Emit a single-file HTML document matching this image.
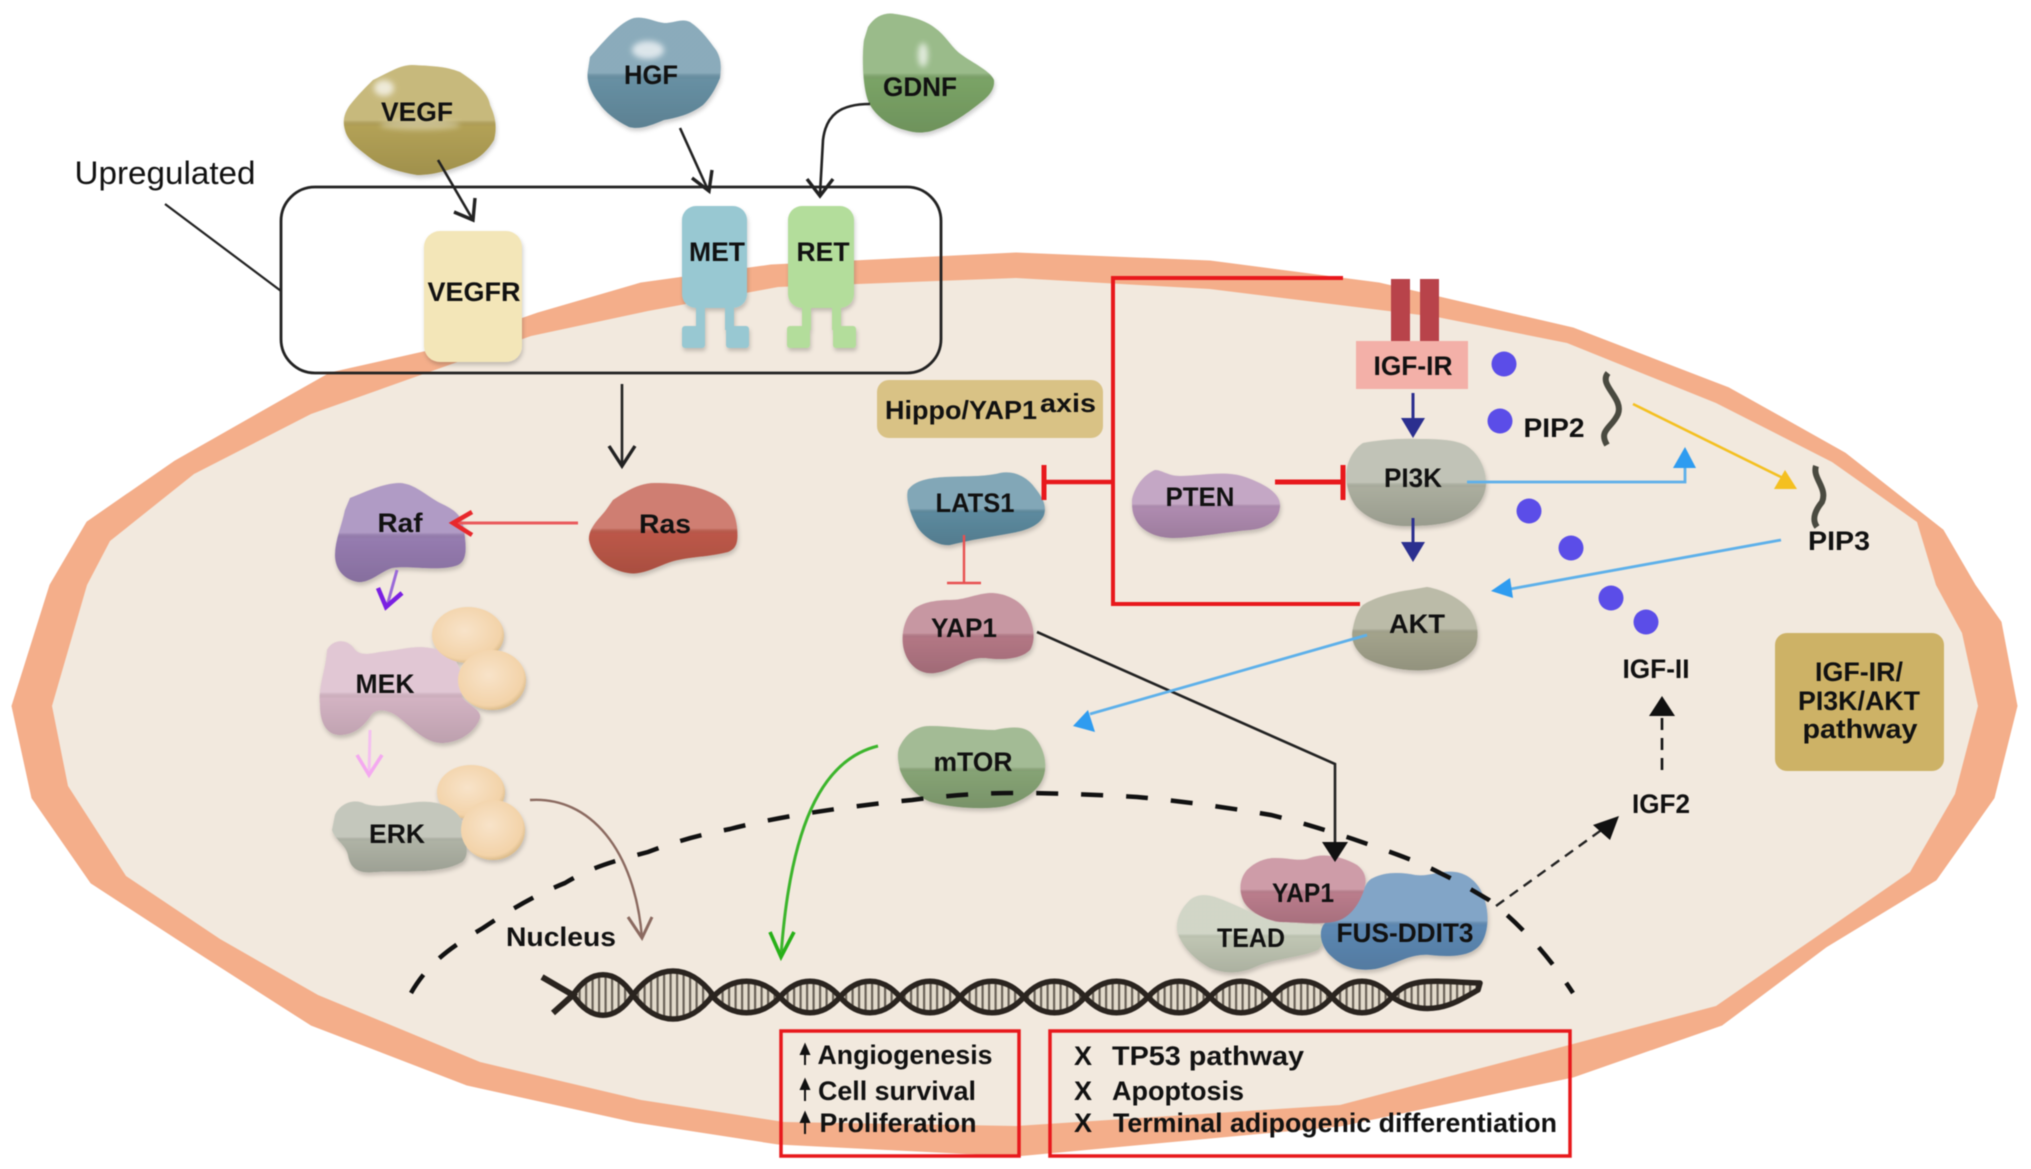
<!DOCTYPE html>
<html><head><meta charset="utf-8"><style>
html,body{margin:0;padding:0;background:#fff}
svg{display:block;filter:blur(.5px)}
text{font-family:"Liberation Sans",sans-serif;font-weight:bold;fill:#111;text-anchor:middle;dominant-baseline:central}
</style></head><body>
<svg width="2031" height="1169" viewBox="0 0 2031 1169" xmlns="http://www.w3.org/2000/svg">
<defs>
<linearGradient id="sh" x1="0" y1="0" x2="0" y2="1">
<stop offset="0" stop-color="#fff" stop-opacity=".22"/><stop offset=".5" stop-color="#fff" stop-opacity=".22"/><stop offset=".56" stop-color="#000" stop-opacity=".03"/><stop offset="1" stop-color="#000" stop-opacity=".13"/>
</linearGradient>
<filter id="soft" x="-50%" y="-50%" width="200%" height="200%"><feGaussianBlur stdDeviation="3"/></filter>
<filter id="sd" x="-15%" y="-15%" width="130%" height="130%"><feDropShadow dx="1" dy="3" stdDeviation="2" flood-color="#000" flood-opacity=".2"/></filter>
<radialGradient id="ball" cx=".45" cy=".42" r=".62"><stop offset="0" stop-color="#f8e3c9"/><stop offset=".82" stop-color="#f3d3a9"/><stop offset="1" stop-color="#d1b27e"/></radialGradient>
<pattern id="st" width="6.5" height="10" patternUnits="userSpaceOnUse"><rect width="6.5" height="10" fill="#e2dacb"/><rect width="2.2" height="10" fill="#6a6258"/></pattern>
<path id="vegf" d="M373 80C390 72 400 65 412 65C430 66 445 66 460 72C475 82 488 92 490 105C496 118 497 128 494 140C488 150 480 158 470 162C450 170 435 175 417 175C400 172 385 168 373 160C360 150 348 142 345 130C342 120 345 112 350 105C358 95 365 88 373 80Z"/>
<path id="hgf" d="M590 57C605 40 620 22 634 18C645 16 655 22 664 23C675 23 682 18 690 22C702 30 710 42 716 50C722 60 721 68 720 78C715 90 710 98 703 105C690 115 675 118 664 120C652 125 640 130 629 127C615 120 605 112 599 103C590 92 586 80 588 70Z"/>
<path id="gdnf" d="M868 27C875 16 885 12 895 14C910 16 925 20 935 28C945 35 950 45 958 52C970 62 990 70 994 80C995 90 988 97 980 103C965 115 950 125 937 129C925 134 915 133 905 130C890 126 878 118 870 105C862 90 862 55 864 40Z"/>
<path id="ras" d="M613 500C628 490 640 483 655 483C675 483 695 485 712 493C728 500 735 510 737 527C738 540 738 548 728 552C705 558 685 556 665 564C650 570 640 575 628 573C610 570 592 558 589 540C588 528 600 518 606 510Z"/>
<path id="raf" d="M350 498C370 490 385 483 400 483C415 484 425 495 440 503C455 510 462 515 464 530C466 545 468 560 458 565C440 572 410 565 392 568C380 572 370 583 358 582C345 580 335 570 335 555C335 540 342 525 345 510Z"/>
<path id="mek" d="M327 650C332 640 345 638 353 647C358 655 365 655 380 652C400 650 415 645 430 648C445 650 455 655 460 670L462 697C468 705 482 710 480 718C476 730 462 742 443 743C425 743 415 730 397 716C388 710 378 708 372 714C365 725 355 735 340 735C328 735 320 725 320 705C318 685 326 670 327 650Z"/>
<path id="erk" d="M335 815C340 803 355 798 365 804C385 810 410 800 430 802C448 804 462 812 464 830C466 845 470 855 462 862C440 875 400 870 375 872C358 874 350 868 348 855C346 845 335 840 332 830Z"/>
<path id="lats" d="M908 490C915 480 930 478 945 477C965 476 985 477 1000 473C1015 470 1028 478 1035 488C1042 497 1047 505 1044 515C1040 525 1028 530 1012 533C990 537 970 540 950 545C938 546 925 538 918 528C912 518 905 500 908 490Z"/>
<path id="yap" d="M913 610C920 603 935 600 950 600C965 600 975 594 990 593C1005 593 1020 600 1027 612C1034 625 1036 640 1030 650C1020 660 1000 660 985 658C965 657 955 670 935 673C920 675 908 665 904 650C900 635 905 618 913 610Z"/>
<path id="mtor" d="M899 748C905 735 915 726 930 726C950 726 975 730 995 730C1010 727 1025 725 1033 735C1042 745 1048 760 1044 775C1040 790 1025 800 1005 806C985 810 955 808 935 803C920 800 905 785 900 770C898 760 897 755 899 748Z"/>
<path id="pten" d="M1132 500C1134 488 1143 475 1155 470C1162 470 1168 476 1180 476C1200 476 1225 470 1245 477C1262 483 1280 492 1280 505C1280 518 1270 528 1250 530C1225 532 1195 538 1173 538C1155 538 1140 530 1135 518C1132 512 1132 506 1132 500Z"/>
<path id="pi3k" d="M1363 443C1380 440 1400 438 1420 439C1440 439 1455 440 1465 445C1478 452 1486 468 1486 483C1486 498 1475 512 1460 518C1445 525 1425 526 1405 526C1385 526 1365 518 1355 505C1347 493 1345 478 1347 468C1349 458 1355 448 1363 443Z"/>
<path id="akt" d="M1363 605C1375 597 1395 592 1410 590L1427 587C1445 590 1462 600 1470 610C1478 622 1479 635 1476 645C1470 658 1450 668 1427 670C1405 672 1380 666 1365 658C1355 650 1350 640 1353 628C1355 618 1358 610 1363 605Z"/>
<path id="yap2" d="M1247 870C1255 862 1265 858 1275 858C1290 858 1300 862 1310 858C1325 852 1345 858 1357 865C1366 872 1367 880 1364 890C1360 902 1352 915 1340 920C1325 926 1300 922 1280 922C1265 920 1250 912 1244 902C1238 890 1240 878 1247 870Z"/>
<path id="tead" d="M1188 902C1195 894 1205 894 1215 897C1235 904 1255 915 1275 922L1320 925C1325 935 1324 945 1318 950C1300 958 1275 958 1255 967C1240 974 1225 974 1210 968C1195 960 1180 945 1177 930C1176 918 1182 908 1188 902Z"/>
<path id="fus" d="M1373 878C1385 872 1400 872 1415 875C1430 877 1440 870 1455 872C1470 874 1480 885 1484 898C1490 915 1488 935 1480 945C1470 957 1450 957 1430 955C1410 953 1395 965 1375 969C1355 972 1340 965 1330 955C1320 945 1318 930 1325 923C1340 915 1355 910 1362 895C1365 885 1368 880 1373 878Z"/>
</defs>
<rect width="2031" height="1169" fill="#fff"/>
<!-- cell -->
<polygon fill="#f4ae8a" stroke="#f4ae8a" stroke-linejoin="round" points="50,585 87,522 175,461 330,373 428,351 538,313 641,283 771,265 1016,253 1210,261 1379,283 1573,328 1729,388 1845,453 1943,530 1975,585 2001,622 2017,706 1994,798 1936,880 1826,947 1722,1025 1573,1077 1340,1126 1016,1156 778,1144 635,1122 467,1085 311,1025 194,950 91,883 32,798 12,706"/>
<polygon fill="#f2e9de" points="52,706 68,786 126,876 220,939 318,995 480,1062 641,1100 784,1122 1016,1126 1340,1105 1573,1044 1716,1006 1819,935 1910,872 1955,794 1978,706 1962,633 1936,585 1917,522 1832,462 1716,403 1567,343 1437,317 1210,289 1016,278 778,287 648,311 531,336 415,377 311,414 194,474 110,541 87,585"/>
<!-- upregulated box -->
<rect x="281" y="187" width="660" height="186" rx="34" fill="none" stroke="#222" stroke-width="2.8"/>
<line x1="165" y1="204" x2="281" y2="291" stroke="#222" stroke-width="2.2"/>
<text x="165" y="173" font-size="32" style="font-weight:normal" fill="#222" textLength="181" lengthAdjust="spacingAndGlyphs">Upregulated</text>
<!-- ligands -->
<g filter="url(#sd)">
<use href="#vegf" fill="#b8a658"/><use href="#vegf" fill="url(#sh)"/>
<use href="#hgf" fill="#6a94a8"/><use href="#hgf" fill="url(#sh)"/>
<use href="#gdnf" fill="#7ea869"/><use href="#gdnf" fill="url(#sh)"/>
</g>
<g fill="#fff" filter="url(#soft)" opacity=".7">
<ellipse cx="384" cy="88" rx="10" ry="8"/><ellipse cx="420" cy="125" rx="40" ry="5" opacity=".5"/>
<ellipse cx="648" cy="50" rx="16" ry="9"/><ellipse cx="923" cy="55" rx="5" ry="12"/>
</g>
<!-- receptors -->
<rect x="424" y="231" width="98" height="131" rx="16" fill="#f3e6b8" filter="url(#sd)"/>
<g fill="#98c8d2" filter="url(#sd)">
<rect x="682" y="206" width="65" height="102" rx="14"/><rect x="696" y="300" width="9" height="30"/><rect x="725" y="300" width="9" height="30"/>
<rect x="682" y="326" width="23" height="22" rx="3"/><rect x="726" y="326" width="23" height="22" rx="3"/>
</g>
<g fill="#b3dd9b" filter="url(#sd)">
<rect x="788" y="206" width="66" height="102" rx="14"/><rect x="802" y="300" width="9" height="30"/><rect x="832" y="300" width="9" height="30"/>
<rect x="787" y="326" width="23" height="22" rx="3"/><rect x="833" y="326" width="23" height="22" rx="3"/>
</g>
<!-- IGF-IR -->
<rect x="1391" y="279" width="19" height="63" fill="#b8434a"/>
<rect x="1420" y="279" width="19" height="63" fill="#b8434a"/>
<rect x="1356" y="341" width="112" height="48" fill="#f3b0a8"/>
<rect x="877" y="380" width="226" height="58" rx="12" fill="#d9c285"/>
<rect x="1775" y="633" width="169" height="138" rx="12" fill="#cdb266"/>
<!-- dots -->
<g fill="#5b4de8">
<circle cx="1504" cy="364" r="12.5"/><circle cx="1500" cy="421" r="12.5"/><circle cx="1529" cy="511" r="12.5"/><circle cx="1571" cy="548" r="12.5"/><circle cx="1611" cy="598" r="12.5"/><circle cx="1646" cy="622" r="12.5"/>
</g>
<!-- squiggles -->
<path d="M1608 373C1598 385 1624 398 1618 414C1612 428 1598 430 1607 445" fill="none" stroke="#4a4a40" stroke-width="6"/>
<path d="M1816 466C1812 478 1828 488 1822 502C1814 512 1812 520 1817 527" fill="none" stroke="#4a4a40" stroke-width="6"/>
<!-- intracellular proteins -->
<g filter="url(#sd)">
<use href="#ras" fill="#c25a4a"/><use href="#ras" fill="url(#sh)"/>
<use href="#raf" fill="#9a7fb5"/><use href="#raf" fill="url(#sh)"/>
<use href="#mek" fill="#d9b8c8"/><use href="#mek" fill="url(#sh)"/>
<ellipse cx="468" cy="635" rx="36" ry="28" fill="url(#ball)"/><ellipse cx="492" cy="680" rx="34" ry="30" fill="url(#ball)"/>
<ellipse cx="471" cy="792" rx="34" ry="27" fill="url(#ball)"/>
<use href="#erk" fill="#b4b8aa"/><use href="#erk" fill="url(#sh)"/>
<ellipse cx="493" cy="830" rx="32" ry="30" fill="url(#ball)"/>
<use href="#lats" fill="#5f8ea3"/><use href="#lats" fill="url(#sh)"/>
<use href="#yap" fill="#b87a88"/><use href="#yap" fill="url(#sh)"/>
<use href="#mtor" fill="#8aa878"/><use href="#mtor" fill="url(#sh)"/>
<use href="#pten" fill="#b48fb5"/><use href="#pten" fill="url(#sh)"/>
<use href="#pi3k" fill="#b0b3a3"/><use href="#pi3k" fill="url(#sh)"/>
<use href="#akt" fill="#a8a890"/><use href="#akt" fill="url(#sh)"/>
<use href="#tead" fill="#c5cbb8"/><use href="#tead" fill="url(#sh)"/>
<use href="#fus" fill="#5f8cb8"/><use href="#fus" fill="url(#sh)"/>
<use href="#yap2" fill="#c08090"/><use href="#yap2" fill="url(#sh)"/>
</g>
<!-- DNA -->
<g fill="url(#st)" stroke="#2a241f" stroke-width="5.5" stroke-linejoin="round">
<path d="M573 995C591 968 615 968 633 995C615 1022 591 1022 573 995Z"/>
<path d="M633 995C657 963 689 963 713 995C689 1027 657 1027 633 995Z"/>
<path d="M713 997C733 976 760 976 780 997C760 1018 733 1018 713 997Z"/>
<path d="M780 997C798 976 822 976 840 997C822 1018 798 1018 780 997Z"/>
<path d="M840 997C858 976 882 976 900 997C882 1018 858 1018 840 997Z"/>
<path d="M900 997C918 976 942 976 960 997C942 1018 918 1018 900 997Z"/>
<path d="M960 997C979 976 1005 976 1024 997C1005 1018 979 1018 960 997Z"/>
<path d="M1024 997C1042 976 1067 976 1085 997C1067 1018 1042 1018 1024 997Z"/>
<path d="M1085 997C1104 976 1129 976 1148 997C1129 1018 1104 1018 1085 997Z"/>
<path d="M1148 997C1167 976 1191 976 1210 997C1191 1018 1167 1018 1148 997Z"/>
<path d="M1210 997C1229 976 1253 976 1272 997C1253 1018 1229 1018 1210 997Z"/>
<path d="M1272 997C1290 976 1314 976 1332 997C1314 1018 1290 1018 1272 997Z"/>
<path d="M1332 997C1350 976 1374 976 1392 997C1374 1018 1350 1018 1332 997Z"/>
<path d="M1392 997C1410 977 1430 981 1480 983L1478 990C1460 1000 1430 1022 1392 997Z"/>
</g>
<path d="M542 977L573 995L553 1013" fill="none" stroke="#2a241f" stroke-width="6"/>
<!-- nucleus -->
<path d="M411 993C430 960 455 945 483 928C510 910 535 895 565 883C590 868 610 862 648 852C680 840 700 835 730 829C780 816 850 806 912 800C950 795 985 793 1016 793C1060 793 1100 795 1137 797C1180 801 1225 807 1271 815C1300 822 1325 830 1353 839C1385 850 1420 862 1440 873C1465 885 1480 895 1489 900C1515 920 1545 950 1573 993" fill="none" stroke="#111" stroke-width="4.5" stroke-dasharray="22 23"/>
<!-- black arrows -->
<g fill="none" stroke="#222" stroke-width="2.6">
<path d="M438 160L473 220"/><path d="M454 212L473 220L475 198" stroke-width="3.4"/>
<path d="M680 128L708 190"/><path d="M692 178L709 191L712 170" stroke-width="3.4"/>
<path d="M870 104C840 104 826 115 823 140L820 194"/><path d="M807 179L820 196L833 179" stroke-width="3.4"/>
<path d="M622 384V464"/><path d="M609 446L622 466L635 446" stroke-width="3.4"/>
<path d="M1037 632L1335 764V845"/>
</g>
<polygon points="1322,842 1348,842 1335,862" fill="#111"/>
<!-- coloured arrows -->
<g fill="none">
<path d="M578 523H456" stroke="#ea5a5c" stroke-width="3"/><path d="M472 512L453 523L472 535" stroke="#e8282c" stroke-width="4.5"/>
<path d="M397 570L387 606" stroke="#9a6ad8" stroke-width="3"/><path d="M378 588L386 607L402 593" stroke="#7a20e2" stroke-width="4.5"/>
<path d="M370 730L369 775" stroke="#f4c0f0" stroke-width="3"/><path d="M357 755L369 775L382 755" stroke="#f4a9f0" stroke-width="3.5"/>
<path d="M530 800C590 796 635 850 642 938" stroke="#8b6a60" stroke-width="2.4"/><path d="M628 917L642 938L652 917" stroke="#8b6a60" stroke-width="3"/>
<path d="M878 746C820 760 790 830 781 956" stroke="#3cb52c" stroke-width="3"/><path d="M770 932L781 957L794 932" stroke="#28b018" stroke-width="3.6"/>
</g>
<!-- inhibitors -->
<g fill="none" stroke="#e8181c">
<path d="M1343 278H1113V604H1360" stroke-width="4"/>
<path d="M1113 482H1045" stroke-width="4.5"/>
<path d="M1044 465V500" stroke-width="5"/>
<path d="M1275 482H1343" stroke-width="5"/>
<path d="M1343 465V500" stroke-width="5"/>
</g>
<path d="M964 535V583M947 583H981" stroke="#e85050" stroke-width="2.4" fill="none"/>
<!-- navy arrows -->
<path d="M1413 393V420M1413 518V545" stroke="#2b2f8f" stroke-width="3"/>
<polygon points="1401,418 1425,418 1413,438" fill="#2b2f8f"/>
<polygon points="1401,542 1425,542 1413,562" fill="#2b2f8f"/>
<!-- light blue arrows -->
<g fill="none" stroke="#5db0ea" stroke-width="2.8">
<path d="M1467 482H1685V465"/>
<path d="M1781 540L1505 590"/>
<path d="M1367 635L1090 714"/>
</g>
<g fill="#2f9cf0">
<polygon points="1685,447 1673,468 1696,468"/>
<polygon points="1491,591 1510,578 1513,598"/>
<polygon points="1073,726 1088,710 1095,732"/>
</g>
<path d="M1633 404L1783 478" stroke="#f4c020" stroke-width="2.6" fill="none"/>
<polygon points="1785,470 1774,489 1797,489" fill="#f4c020"/>
<!-- dashed -->
<path d="M1662 770V715" stroke="#111" stroke-width="2.6" stroke-dasharray="12 8" fill="none"/>
<polygon points="1662,696 1649,716 1675,716" fill="#111"/>
<path d="M1496 906L1607 826" stroke="#222" stroke-width="2.4" stroke-dasharray="10 7" fill="none"/>
<polygon points="1619,816 1610,840 1593,825" fill="#111"/>
<!-- red boxes -->
<rect x="781" y="1031" width="238" height="125" fill="none" stroke="#e8181c" stroke-width="3.5"/>
<rect x="1050" y="1031" width="520" height="125" fill="none" stroke="#e8181c" stroke-width="3.5"/>
<!-- small up arrows -->
<g stroke="#111" stroke-width="2" fill="#111">
<path d="M805 1065V1052" fill="none"/><polygon points="805,1045 801,1054 809,1054"/>
<path d="M805 1101V1087" fill="none"/><polygon points="805,1080 801,1089 809,1089"/>
<path d="M805 1134V1120" fill="none"/><polygon points="805,1113 801,1122 809,1122"/>
</g>
<!-- labels -->
<g font-size="27">
<text x="417" y="112" textLength="72" lengthAdjust="spacingAndGlyphs">VEGF</text>
<text x="651" y="75" textLength="54" lengthAdjust="spacingAndGlyphs">HGF</text>
<text x="920" y="87" textLength="74" lengthAdjust="spacingAndGlyphs">GDNF</text>
<text x="474" y="292" textLength="93" lengthAdjust="spacingAndGlyphs">VEGFR</text>
<text x="717" y="252" textLength="56" lengthAdjust="spacingAndGlyphs">MET</text>
<text x="823" y="252" textLength="53" lengthAdjust="spacingAndGlyphs">RET</text>
<text x="400" y="523" textLength="45" lengthAdjust="spacingAndGlyphs">Raf</text>
<text x="665" y="524" textLength="52" lengthAdjust="spacingAndGlyphs">Ras</text>
<text x="385" y="684" textLength="59" lengthAdjust="spacingAndGlyphs">MEK</text>
<text x="397" y="834" textLength="56" lengthAdjust="spacingAndGlyphs">ERK</text>
<text x="561" y="937" textLength="110" lengthAdjust="spacingAndGlyphs">Nucleus</text>
<text x="975" y="503" textLength="79" lengthAdjust="spacingAndGlyphs">LATS1</text>
<text x="964" y="628" textLength="66" lengthAdjust="spacingAndGlyphs">YAP1</text>
<text x="973" y="762" textLength="79" lengthAdjust="spacingAndGlyphs">mTOR</text>
<text x="1200" y="497" textLength="69" lengthAdjust="spacingAndGlyphs">PTEN</text>
<text x="1413" y="478" textLength="58" lengthAdjust="spacingAndGlyphs">PI3K</text>
<text x="1413" y="366" textLength="79" lengthAdjust="spacingAndGlyphs">IGF-IR</text>
<text x="1417" y="624" textLength="56" lengthAdjust="spacingAndGlyphs">AKT</text>
<text x="1554" y="428" textLength="61" lengthAdjust="spacingAndGlyphs">PIP2</text>
<text x="1839" y="541" textLength="62" lengthAdjust="spacingAndGlyphs">PIP3</text>
<text x="1656" y="669" textLength="67" lengthAdjust="spacingAndGlyphs">IGF-II</text>
<text x="1661" y="804" textLength="58" lengthAdjust="spacingAndGlyphs">IGF2</text>
<text x="1303" y="893" textLength="62" lengthAdjust="spacingAndGlyphs">YAP1</text>
<text x="1251" y="938" textLength="68" lengthAdjust="spacingAndGlyphs">TEAD</text>
<text x="1405" y="933" textLength="137" lengthAdjust="spacingAndGlyphs">FUS-DDIT3</text>
<text x="1859" y="672" textLength="88" lengthAdjust="spacingAndGlyphs">IGF-IR/</text>
<text x="1859" y="701" textLength="122" lengthAdjust="spacingAndGlyphs">PI3K/AKT</text>
<text x="1860" y="729" textLength="115" lengthAdjust="spacingAndGlyphs">pathway</text>
<text x="961" y="410" font-size="26" textLength="152" lengthAdjust="spacingAndGlyphs">Hippo/YAP1</text>
<text x="1068" y="403" font-size="26" textLength="56" lengthAdjust="spacingAndGlyphs">axis</text>
<text x="905" y="1055" textLength="175" lengthAdjust="spacingAndGlyphs">Angiogenesis</text>
<text x="897" y="1091" textLength="158" lengthAdjust="spacingAndGlyphs">Cell survival</text>
<text x="898" y="1123" textLength="157" lengthAdjust="spacingAndGlyphs">Proliferation</text>
<text x="1083" y="1056">X</text><text x="1083" y="1091">X</text><text x="1083" y="1123">X</text>
<text x="1208" y="1056" textLength="192" lengthAdjust="spacingAndGlyphs">TP53 pathway</text>
<text x="1178" y="1091" textLength="132" lengthAdjust="spacingAndGlyphs">Apoptosis</text>
<text x="1335" y="1123" textLength="444" lengthAdjust="spacingAndGlyphs">Terminal adipogenic differentiation</text>
</g>
</svg>
</body></html>
